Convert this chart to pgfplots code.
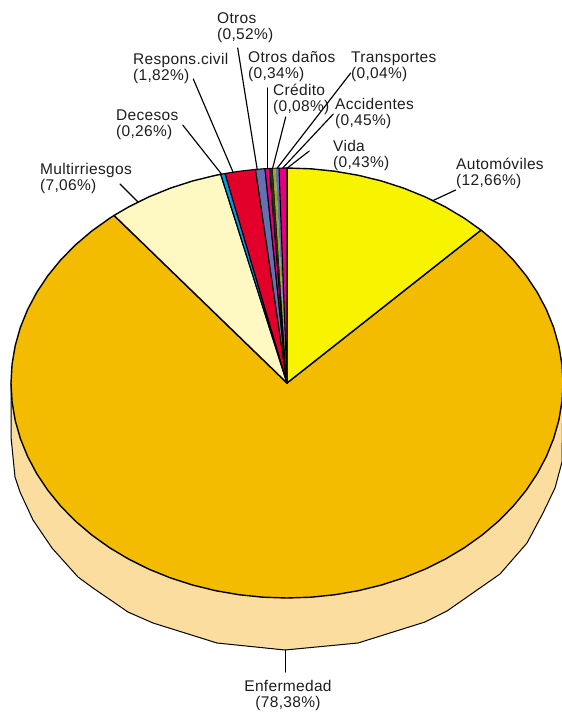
\documentclass[border=0pt]{standalone}
\usepackage{fontspec}
\setmainfont{Liberation Sans}[LetterSpace=2]
\usepackage{pgfplots}
\pgfplotsset{compat=1.18}
\definecolor{cAuto}{HTML}{F8F400}
\definecolor{cEnf}{HTML}{F3BC00}
\definecolor{cSide}{HTML}{FBDD9F}
\definecolor{cMul}{HTML}{FEF9C3}
\definecolor{cDec}{HTML}{009FE3}
\definecolor{cRes}{HTML}{E2002B}
\definecolor{cOtr}{HTML}{6670B0}
\definecolor{cMag}{HTML}{E6007E}
\definecolor{cCre}{HTML}{2A2A20}
\definecolor{cAcc}{HTML}{9AAA1E}
\definecolor{cTxt}{HTML}{1E1E1E}
\newcommand{\lab}[4]{\node[anchor=north west,inner sep=0pt,align=left,text=cTxt,font=\fontsize{15.5}{16}\selectfont] at (axis cs:#1,#2) {#3\\#4};}
\begin{document}
\begin{tikzpicture}
\begin{axis}[
  width=562pt,height=712pt,scale only axis,hide axis,
  xmin=0,xmax=562,ymin=0,ymax=712,y dir=reverse,no markers,
  every axis plot/.append style={line join=round,line cap=round}]
\path (axis cs:0,0) rectangle (axis cs:562,712);
% side wall
\addplot[fill=cSide,draw=black,line width=1pt] coordinates {(11,383)(11,437)(15,477)(20,492)(33,520)(52,548)(78,577)(93,588)(128,612)(153,623)(217,643)(285,650)(358,643)(425,622)(447,611)(500,574)(527,543)(543,513)(555,488)(562,462)(563,383)} --cycle;
% Enfermedad 78,38
\addplot[fill=cEnf,draw=black,line width=1.4pt] coordinates {(287,383)(481.0,230.1)(482.16,230.97)(498.43,244.80)(513.09,259.68)(526.02,275.5)(537.14,292.14)(546.35,309.47)(553.60,327.35)(558.81,345.67)(561.95,364.26)(563,383)(561.95,401.74)(558.81,420.33)(553.60,438.65)(546.35,456.53)(537.14,473.86)(526.02,490.5)(513.09,506.32)(498.43,521.20)(482.16,535.03)(464.41,547.70)(445.31,559.12)(425,569.20)(403.64,577.86)(381.40,585.03)(358.43,590.67)(334.93,594.73)(311.06,597.18)(287,598)(262.94,597.18)(239.07,594.73)(215.57,590.67)(192.60,585.03)(170.36,577.86)(149,569.20)(128.69,559.12)(109.59,547.70)(91.84,535.03)(75.57,521.20)(60.91,506.32)(47.98,490.5)(36.86,473.86)(27.65,456.53)(20.40,438.65)(15.19,420.33)(12.05,401.74)(11,383)(12.05,364.26)(15.19,345.67)(20.40,327.35)(27.65,309.47)(36.86,292.14)(47.98,275.5)(60.91,259.68)(75.57,244.80)(91.84,230.97)(109.59,218.30)(114.06,215.44)} --cycle;
% Automoviles 12,66
\addplot[fill=cAuto,draw=black,line width=1.4pt] coordinates {(287,383)(287,168)(311.06,168.82)(334.93,171.27)(358.43,175.33)(381.40,180.97)(403.64,188.14)(425,196.80)(445.31,206.88)(464.41,218.30)(481.0,230.1)} --cycle;
% Multirriesgos 7,06
\addplot[fill=cMul,draw=black,line width=1.4pt] coordinates {(287,383)(114.06,215.44)(128.69,206.88)(149,196.80)(170.36,188.14)(192.6,180.97)(215.57,175.33)(220.76,174.28)} --cycle;
% Decesos 0,26
\addplot[fill=cDec,draw=black,line width=1.1pt] coordinates {(287,383)(220.76,174.28)(225.04,173.49)} --cycle;
% Respons.civil 1,82
\addplot[fill=cRes,draw=black,line width=1.1pt] coordinates {(287,383)(225.04,173.49)(239.07,171.27)(255.51,169.40)} --cycle;
% Otros 0,52
\addplot[fill=cOtr,draw=black,line width=1.1pt] coordinates {(287,383)(255.51,169.40)(265,168.68)} --cycle;
% Otros danos 0,34
\addplot[fill=cMag,draw=black,line width=1.1pt] coordinates {(287,383)(265,168.68)(269.5,168.43)} --cycle;
% Credito 0,08 + Transportes 0,04
\addplot[fill=cCre,draw=black,line width=0.9pt] coordinates {(287,383)(269.5,168.43)(272.8,168.28)} --cycle;
% Accidentes 0,45
\addplot[fill=cAcc,draw=none] coordinates {(287,383)(272.8,168.28)(275.5,168.19)} --cycle;
\addplot[fill=cOtr,draw=none] coordinates {(287,383)(275.5,168.19)(279,168.09)} --cycle;
\addplot[draw=black,line width=0.9pt] coordinates {(272.8,168.28)(279,168.09)};
% Vida 0,43
\addplot[fill=cMag,draw=black,line width=1.1pt] coordinates {(287,383)(279,168.09)(287,168)} --cycle;
% leaders
\addplot[black,line width=1.15pt] coordinates {(237.7,48)(257.3,170)};
\addplot[black,line width=1.15pt] coordinates {(267.3,88)(267.3,168)};
\addplot[black,line width=1.15pt] coordinates {(285.7,117)(272.7,168)};
\addplot[black,line width=1.15pt] coordinates {(350.7,73)(277.3,168)};
\addplot[black,line width=1.15pt] coordinates {(333.3,114)(282.7,168)};
\addplot[black,line width=1.15pt] coordinates {(309.3,151)(287.3,168)};
\addplot[black,line width=1.15pt] coordinates {(193.3,79)(233.3,172.7)};
\addplot[black,line width=1.15pt] coordinates {(182.7,125)(221.7,174.3)};
\addplot[black,line width=1.15pt] coordinates {(120,184)(138.3,202.3)};
\addplot[black,line width=1.15pt] coordinates {(455.7,190)(432.7,200.7)};
\addplot[black,line width=1pt] coordinates {(285,650)(285,672)};
% labels
\lab{217}{12.5}{Otros}{(0,52\%)}
\lab{248}{51.5}{Otros daños}{(0,34\%)}
\lab{351}{51.5}{Transportes}{(0,04\%)}
\lab{273}{83.5}{Crédito}{(0,08\%)}
\lab{335}{98.5}{Accidentes}{(0,45\%)}
\lab{333}{140.5}{Vida}{(0,43\%)}
\lab{456}{157.5}{Automóviles}{(12,66\%)}
\lab{133}{53.5}{Respons.civil}{(1,82\%)}
\lab{116}{109.5}{Decesos}{(0,26\%)}
\lab{40}{163.5}{Multirriesgos}{(7,06\%)}
\node[anchor=north,inner sep=0pt,align=center,text=cTxt,font=\fontsize{15.5}{16}\selectfont] at (axis cs:288,680.5) {Enfermedad\\(78,38\%)};
\end{axis}
\end{tikzpicture}
\end{document}
